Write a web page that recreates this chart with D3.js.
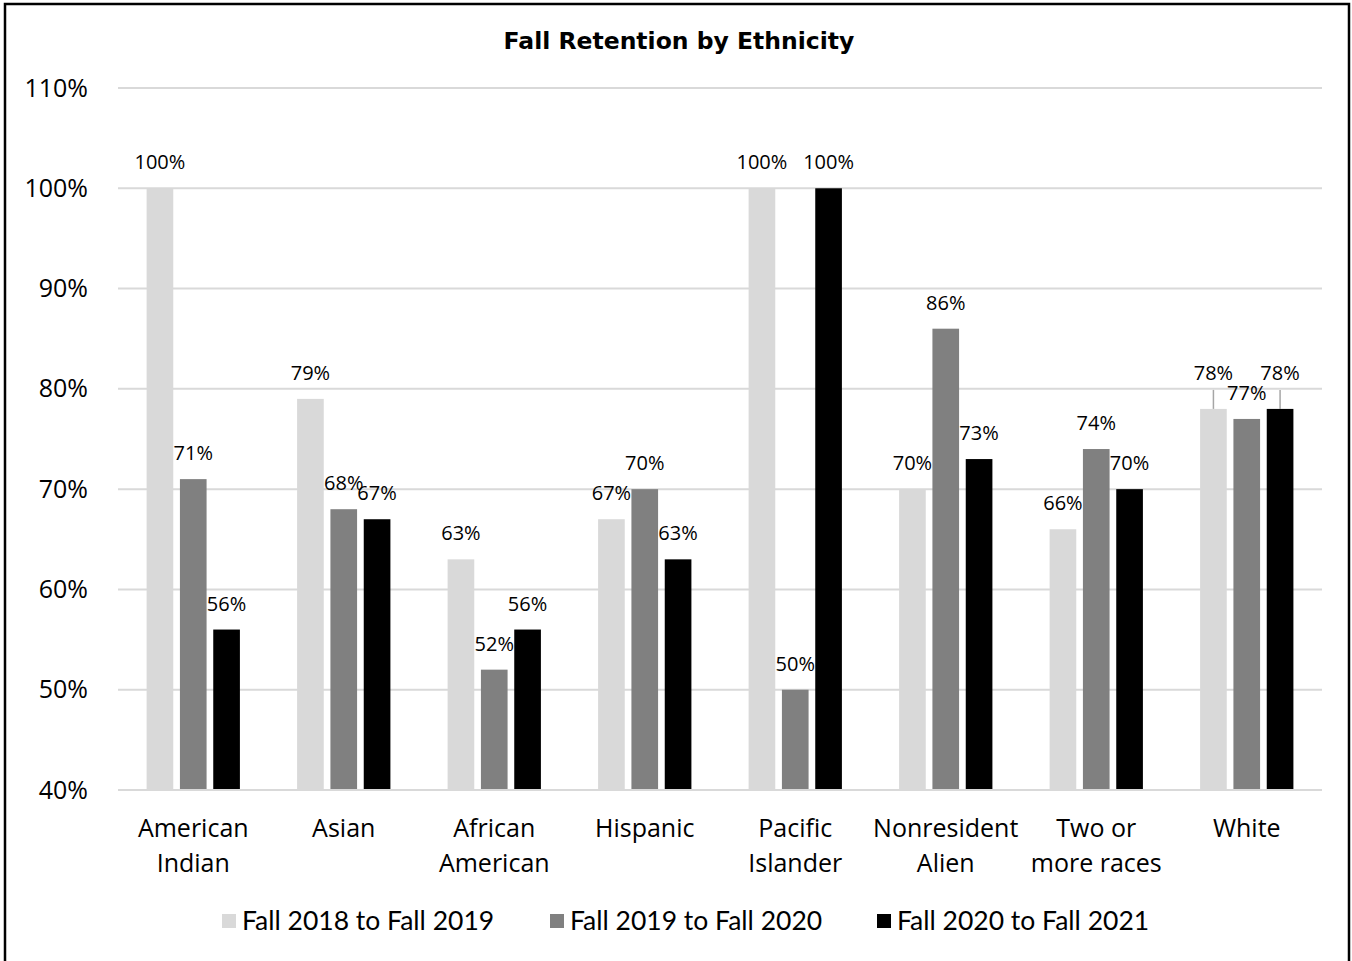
<!DOCTYPE html>
<html><head><meta charset="utf-8">
<script src="https://cdn.jsdelivr.net/npm/d3@7"></script>
<style>body{margin:0;background:#fff}</style>
</head><body>
<script>
const categories = [["American","Indian"],["Asian"],["African","American"],["Hispanic"],["Pacific","Islander"],["Nonresident","Alien"],["Two or","more races"],["White"]];
const seriesNames = ["Fall 2018 to Fall 2019","Fall 2019 to Fall 2020","Fall 2020 to Fall 2021"];
const fall2018 = [100,79,63,67,100,70,66,78];
const fall2019 = [71,68,52,70,50,86,74,77];
const fall2020 = [56,67,56,63,100,73,70,78];
const yTicks = [40,50,60,70,80,90,100,110];
const colors = ["#d9d9d9","#808080","#000000"];

const W=1352,H=961;
const svg=d3.select("body").append("svg").attr("width",W).attr("height",H);
svg.append("rect").attr("x",5).attr("y",4).attr("width",1344).attr("height",962).attr("fill","#fff").attr("stroke","#000").attr("stroke-width",2.5);

const series=[fall2018,fall2019,fall2020];
const x0=d3.scaleBand().domain(d3.range(categories.length)).range([118,1322]).paddingInner(0.38).paddingOuter(0.19);
const x1=d3.scaleBand().domain([0,1,2]).range([0,x0.bandwidth()]).paddingInner(0.2);
const y=d3.scaleLinear().domain([40,110]).range([790,88]);

svg.append("text").attr("x",679).attr("y",49).attr("text-anchor","middle")
  .style("font-family","DejaVu Sans").style("font-weight","bold").style("font-size","23.5px").text("Fall Retention by Ethnicity");

// grid
svg.append("g").selectAll("line").data(yTicks.filter(t=>t>40)).join("line")
  .attr("x1",118).attr("x2",1322).attr("y1",d=>y(d)).attr("y2",d=>y(d))
  .attr("stroke","#d9d9d9").attr("stroke-width",2);

// y axis
const yAxis=d3.axisLeft(y).tickValues(yTicks).tickFormat(d=>d+"%").tickSize(0).tickPadding(30);
const ya=svg.append("g").attr("transform","translate(118,0)").call(yAxis);
ya.select(".domain").remove();
ya.selectAll("text").style("font-family","Open Sans").style("font-size","25px").attr("fill","#000");

// bars
const rows=[];
categories.forEach((c,i)=>series.forEach((s,j)=>rows.push({i,j,v:s[i]})));
svg.append("g").selectAll("rect").data(rows).join("rect")
  .attr("x",d=>x0(d.i)+x1(d.j)).attr("width",x1.bandwidth())
  .attr("y",d=>y(d.v)).attr("height",d=>y(40)-y(d.v)).attr("fill",d=>colors[d.j]);

// baseline
svg.append("line").attr("x1",118).attr("x2",1322).attr("y1",y(40)).attr("y2",y(40)).attr("stroke","#d9d9d9").attr("stroke-width",2);

// x axis labels
const xa=svg.append("g");
categories.forEach((c,i)=>{
  const t=xa.append("text").attr("x",x0(i)+x0.bandwidth()/2).attr("y",837).attr("text-anchor","middle")
    .style("font-family","Open Sans").style("font-size","25px");
  c.forEach((l,k)=>t.append("tspan").attr("x",x0(i)+x0.bandwidth()/2).attr("dy",k?35:0).text(l));
});

// labels
const lifted=d=>d.i===categories.length-1 && d.j!==1;
const lg=svg.append("g");
rows.forEach(d=>{
  const cx=x0(d.i)+x1(d.j)+x1.bandwidth()/2;
  const base=y(d.v);
  const ly=lifted(d)?base-29:base-19;
  if(lifted(d)) lg.append("line").attr("x1",cx).attr("x2",cx).attr("y1",base-19).attr("y2",base).attr("stroke","#a6a6a6").attr("stroke-width",1.5);
  lg.append("text").attr("x",cx).attr("y",ly).attr("text-anchor","middle")
    .style("font-family","Open Sans").style("font-size","20px").text(d.v+"%");
});

// legend
const legX=[222,550,877];
const leg=svg.append("g");
seriesNames.forEach((n,j)=>{
  leg.append("rect").attr("x",legX[j]).attr("y",914).attr("width",14).attr("height",14).attr("fill",colors[j]);
  leg.append("text").attr("x",legX[j]+20).attr("y",930).style("font-family","Lato").style("font-size","26.5px").text(n);
});
</script>
</body></html>
